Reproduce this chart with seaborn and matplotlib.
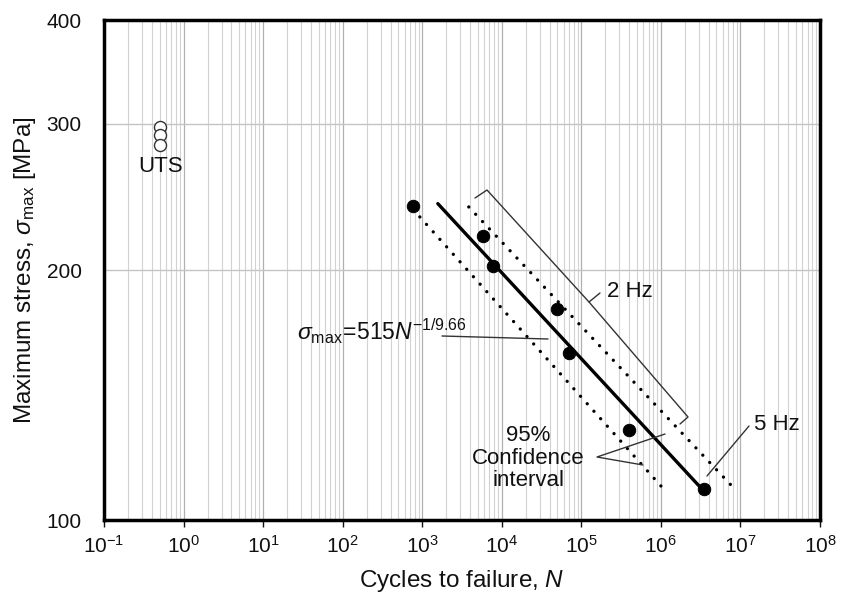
import numpy as np
import pandas as pd
import seaborn as sns
import matplotlib.pyplot as plt
from matplotlib.ticker import FixedLocator, FuncFormatter, LogLocator, NullFormatter

# fatigue test results (filled markers)
cycles = [760, 5760, 7700, 49000, 69600, 394000, 3450000]
stress = [239, 220, 202, 179.6, 158.9, 128.4, 109]

# ultimate tensile strength (open markers, plotted at N = 0.5)
uts_n = [0.5, 0.5, 0.5]
uts_stress = [297, 290.8, 282.9]

# fitted curve sigma = 515 N^(-1/9.66)
fit_a = 515
fit_b = 9.66
fit_n = [1570, 3450000]

# 95 % confidence bands (end points)
lower_n = [933, 1080000]
lower_s = [231.7, 109]
upper_n = [3846, 8450000]
upper_s = [238.2, 109]

y_ticks = [100, 200, 300, 400]
x_ticks = [10.0 ** k for k in range(-1, 9)]

sns.set_style('white')
plt.rcParams['font.family'] = ['Liberation Sans', 'DejaVu Sans']
plt.rcParams['mathtext.fontset'] = 'custom'
plt.rcParams['mathtext.rm'] = 'Liberation Sans'
plt.rcParams['mathtext.it'] = 'Liberation Sans:italic'
plt.rcParams['mathtext.bf'] = 'Liberation Sans:bold'
plt.rcParams['axes.unicode_minus'] = False
plt.rcParams['text.color'] = '#111111'
plt.rcParams['axes.labelcolor'] = '#111111'

fig = plt.figure(figsize=(8.41, 5.99), dpi=100)
ax = fig.add_axes([104 / 841, 1 - 520 / 599, (820 - 104) / 841, 500 / 599])
ax.set_xscale('log')
ax.set_yscale('log')
ax.set_xlim(0.1, 1e8)
ax.set_ylim(100, 400)

# grid
ax.xaxis.set_major_locator(FixedLocator(x_ticks))
ax.xaxis.set_minor_locator(LogLocator(base=10, subs=np.arange(2, 10)))
ax.xaxis.set_minor_formatter(NullFormatter())
ax.xaxis.set_major_formatter(FuncFormatter(lambda v, p: r'$10^{%d}$' % round(np.log10(v))))
ax.yaxis.set_major_locator(FixedLocator(y_ticks))
ax.yaxis.set_minor_locator(FixedLocator([]))
ax.yaxis.set_major_formatter(FuncFormatter(lambda v, p: f'{v:.0f}'))
ax.grid(True, which='major', axis='x', color='#b0b0b0', lw=0.9)
ax.grid(True, which='minor', axis='x', color='#d2d2d2', lw=0.8)
ax.grid(True, which='major', axis='y', color='#c4c4c4', lw=1.0)
ax.set_axisbelow(True)

ax.tick_params(axis='x', which='major', length=5, width=1, direction='out', bottom=True,
               labelsize=15, pad=6, colors='#111111')
ax.tick_params(axis='x', which='minor', length=0)
ax.tick_params(axis='y', which='both', length=0, labelsize=15, pad=16, colors='#111111')
for s in ax.spines.values():
    s.set_linewidth(2.5)
    s.set_color('black')

# curves
fit_df = pd.DataFrame({'N': fit_n, 's': [fit_a * n ** (-1 / fit_b) for n in fit_n]})
sns.lineplot(data=fit_df, x='N', y='s', ax=ax, color='black', lw=2.4)
dots = dict(color='black', lw=2.4, linestyle=(0, (0.01, 3.0)), dash_capstyle='round')
sns.lineplot(x=lower_n, y=lower_s, ax=ax, **dots)
sns.lineplot(x=upper_n, y=upper_s, ax=ax, **dots)

# points
sns.scatterplot(x=cycles, y=stress, ax=ax, color='black', s=80, edgecolor='black', zorder=5)
sns.scatterplot(x=uts_n, y=uts_stress, ax=ax, facecolor='white', edgecolor='#333333',
                s=75, linewidth=1.0, zorder=5)

fig.canvas.draw()
tf = ax.transData.inverted()


def px(x, y):
    # pixel coordinates of the picture -> data coordinates
    return tf.transform(fig.transFigure.transform((x / 841, 1 - y / 599)))


def poly(pts, lw=1.0, color='#333333'):
    d = np.array([px(*p) for p in pts])
    ax.plot(d[:, 0], d[:, 1], color=color, lw=lw, zorder=4)


# 2 Hz bracket
poly([(475, 198), (487, 190), (589, 302), (600, 293)])
poly([(589, 302), (688, 417), (680, 424)])
# 5 Hz leader
poly([(707, 476), (749, 426)])
# confidence interval leaders
poly([(665, 434), (597, 457), (643, 465)])
# equation leader
poly([(442, 336), (548, 339)])

tk = dict(fontsize=16, color='#111111')
ax.text(*px(161, 166), 'UTS', ha='center', va='center', **tk)
ax.text(*px(607, 291), '2 Hz', ha='left', va='center', **tk)
ax.text(*px(754, 425), '5 Hz', ha='left', va='center', **tk)
ax.text(*px(528, 458), '95%\nConfidence\ninterval', ha='center', va='center',
        linespacing=1.1, **tk)
ax.text(*px(297, 331), r'$\sigma_{\rm max}\!=\!515\mathit{N}^{-1/9.66}$', ha='left',
        va='center', fontsize=16.5, color='#111111')

ax.set_xlabel(r'Cycles to failure, $\mathit{N}$', fontsize=17.5, labelpad=8)
ax.set_ylabel(r'Maximum stress, $\sigma_{\rm max}$ [MPa]', fontsize=17.5, labelpad=6)

fig.savefig('out.png', dpi=100)
